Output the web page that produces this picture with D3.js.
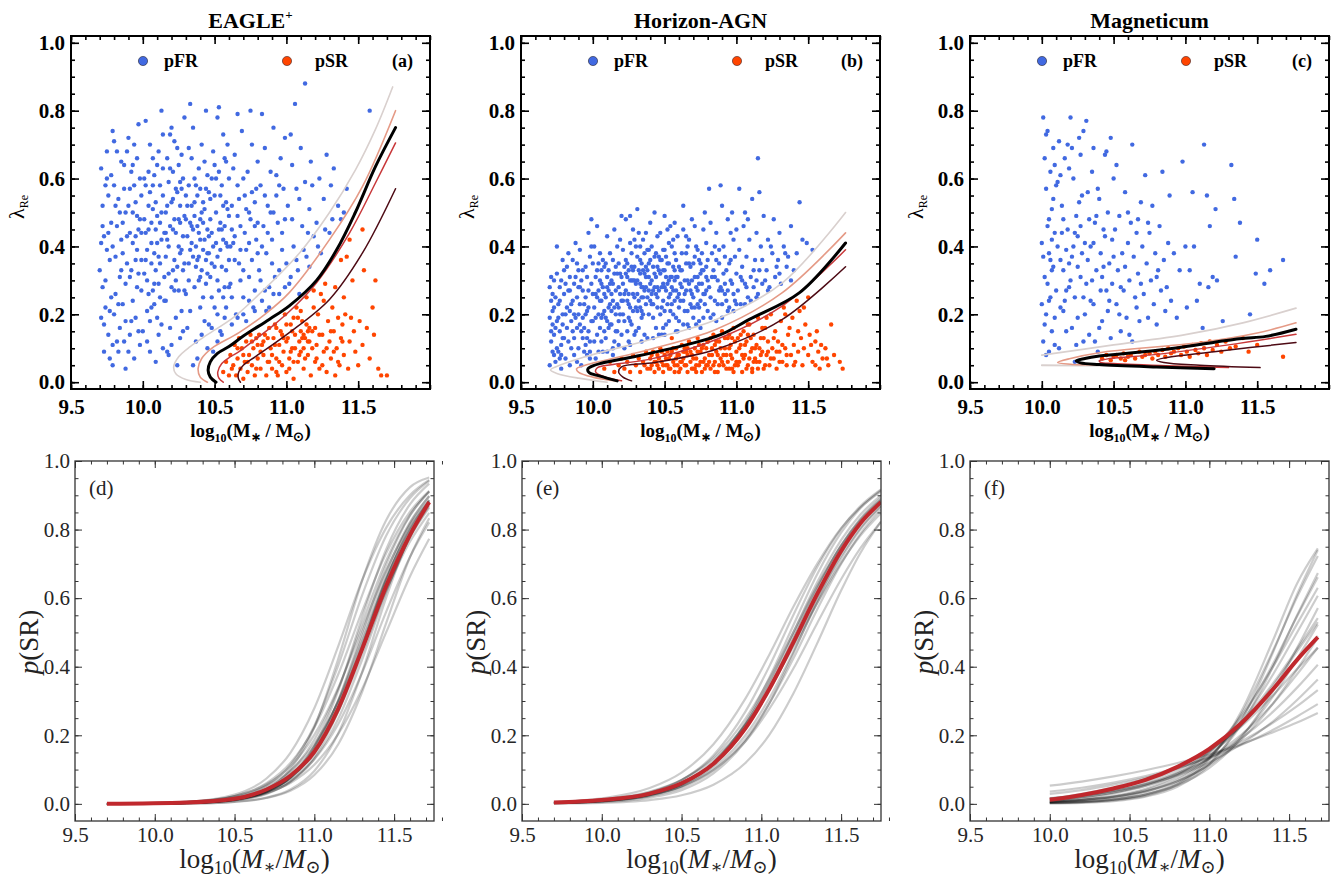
<!DOCTYPE html>
<html><head><meta charset="utf-8">
<script src="https://cdn.jsdelivr.net/npm/d3@7"></script>
<style>body{margin:0;background:#fff}svg{display:block}</style>
</head><body><svg id="c" width="1336" height="878"></svg>
<script>
// ---------------- DATA ----------------
const xTicks = [9.5, 10.0, 10.5, 11.0, 11.5];
const yTicks = [0.0, 0.2, 0.4, 0.6, 0.8, 1.0];
const titles = ["EAGLE", "Horizon-AGN", "Magneticum"];
const topTags = ["(a)", "(b)", "(c)"];
const botTags = ["(d)", "(e)", "(f)"];

// EAGLE+ points [log10 M*, lambda_Re]
const eagleFR = [[9.71,.63],[9.72,.52],[9.70,.33],[9.73,.09],[9.74,.22],[9.71,.41],[9.75,.68],[9.76,.14],[9.72,.28],[9.78,.47],[9.74,.58],[9.77,.36],[9.79,.05],[9.73,.17],[9.80,.71],[9.76,.44],[9.81,.26],[9.78,.61],[9.82,.12],[9.75,.39],[9.83,.54],[9.80,.20],[9.84,.31],[9.79,.74],[9.82,.46],[9.77,.07],[9.85,.65],[9.81,.37],[9.84,.16],[9.72,.46],[9.78,.25],[9.83,.09],[9.76,.55],[9.85,.42],[9.71,.19],[9.80,.58],[9.74,.30],[9.82,.68],[9.79,.11],[9.84,.50],
[9.86,.23],[9.87,.57],[9.88,.04],[9.89,.35],[9.90,.72],[9.86,.47],[9.91,.14],[9.92,.62],[9.88,.29],[9.93,.41],[9.94,.07],[9.90,.52],[9.95,.19],[9.96,.66],[9.92,.33],[9.97,.45],[9.98,.11],[9.94,.58],[9.99,.27],[9.96,.39],[9.87,.12],[9.89,.68],[9.91,.44],[9.93,.24],[9.95,.53],[9.97,.76],[9.99,.36],[9.98,.60],[9.86,.38],[9.88,.50],[9.90,.09],[9.92,.18],[9.94,.70],[9.96,.28],[9.98,.48],[9.93,.64],[9.97,.15],[9.99,.55],[9.91,.31],[9.95,.43],
[10.01,.32],[10.02,.58],[10.03,.12],[10.04,.45],[10.05,.70],[10.06,.22],[10.07,.51],[10.08,.38],[10.09,.06],[10.10,.64],[10.11,.29],[10.12,.47],[10.13,.17],[10.14,.55],[10.02,.77],[10.04,.26],[10.06,.41],[10.08,.61],[10.10,.19],[10.12,.35],[10.14,.73],[10.01,.48],[10.03,.39],[10.05,.09],[10.07,.27],[10.09,.53],[10.11,.68],[10.13,.42],[10.15,.31],[10.00,.15],[10.02,.44],[10.04,.62],[10.06,.35],[10.08,.23],[10.10,.49],[10.12,.58],[10.14,.10],[10.05,.56],[10.07,.66],[10.09,.33],[10.11,.14],[10.13,.80],[10.03,.21],[10.15,.44],[10.01,.60],
[10.16,.37],[10.17,.52],[10.18,.08],[10.19,.63],[10.20,.28],[10.21,.45],[10.22,.71],[10.23,.19],[10.24,.56],[10.25,.40],[10.26,.13],[10.27,.67],[10.28,.33],[10.29,.49],[10.16,.24],[10.18,.59],[10.20,.75],[10.22,.36],[10.24,.05],[10.26,.47],[10.28,.60],[10.30,.26],[10.17,.42],[10.19,.16],[10.21,.54],[10.23,.30],[10.25,.64],[10.27,.21],[10.29,.78],[10.16,.50],[10.18,.32],[10.20,.11],[10.22,.48],[10.24,.69],[10.26,.38],[10.28,.15],[10.30,.55],[10.21,.62],[10.23,.44],[10.25,.27],[10.27,.57],[10.29,.35],[10.19,.73],[10.17,.09],[10.26,.52],
[10.31,.43],[10.32,.58],[10.33,.21],[10.34,.66],[10.35,.37],[10.36,.49],[10.37,.12],[10.38,.55],[10.39,.30],[10.40,.42],[10.41,.70],[10.42,.25],[10.43,.51],[10.44,.36],[10.45,.61],[10.31,.16],[10.33,.47],[10.35,.75],[10.37,.40],[10.39,.63],[10.41,.33],[10.43,.18],[10.45,.45],[10.32,.35],[10.34,.52],[10.36,.28],[10.38,.07],[10.40,.57],[10.42,.39],[10.44,.80],[10.32,.69],[10.34,.41],[10.36,.60],[10.38,.46],[10.40,.22],[10.42,.53],[10.44,.29],[10.35,.05],[10.37,.34],[10.39,.44],[10.41,.14],[10.43,.65],[10.45,.38],[10.33,.82],[10.40,.48],
[10.46,.56],[10.47,.31],[10.48,.44],[10.49,.68],[10.50,.22],[10.51,.50],[10.52,.37],[10.53,.62],[10.54,.15],[10.55,.45],[10.56,.73],[10.57,.28],[10.58,.53],[10.59,.40],[10.46,.17],[10.48,.60],[10.50,.34],[10.52,.78],[10.54,.47],[10.56,.25],[10.58,.65],[10.60,.36],[10.47,.48],[10.49,.09],[10.51,.41],[10.53,.27],[10.55,.58],[10.57,.19],[10.59,.70],[10.60,.49],[10.46,.38],[10.48,.25],[10.50,.64],[10.52,.12],[10.54,.55],[10.56,.42],[10.58,.33],[10.60,.60],[10.53,.81],[10.57,.46],
[10.61,.29],[10.62,.52],[10.63,.41],[10.64,.67],[10.65,.20],[10.66,.58],[10.67,.35],[10.68,.46],[10.69,.74],[10.70,.25],[10.71,.55],[10.72,.39],[10.73,.62],[10.74,.31],[10.75,.48],[10.76,.70],[10.77,.22],[10.78,.53],[10.79,.42],[10.80,.65],[10.62,.17],[10.64,.43],[10.66,.79],[10.68,.30],[10.70,.60],[10.72,.18],[10.74,.50],[10.76,.36],[10.78,.27],[10.80,.47],[10.63,.63],[10.67,.54],[10.71,.44],[10.75,.80],[10.79,.57],
[10.81,.33],[10.82,.58],[10.83,.24],[10.84,.46],[10.85,.69],[10.86,.38],[10.87,.52],[10.88,.28],[10.89,.62],[10.90,.42],[10.91,.75],[10.92,.31],[10.93,.55],[10.94,.47],[10.95,.26],[10.96,.66],[10.97,.39],[10.98,.57],[10.99,.72],[11.00,.35],[10.83,.79],[10.86,.21],[10.89,.50],[10.93,.61],[10.97,.44],
[11.01,.52],[11.02,.29],[11.04,.64],[11.05,.40],[11.07,.57],[11.08,.33],[11.10,.69],[11.11,.46],[11.13,.59],[11.14,.37],[11.16,.51],[11.17,.65],[11.19,.43],[11.03,.73],[11.06,.82],[11.13,.88],[11.18,.58],[11.09,.26],
[11.21,.47],[11.23,.60],[11.24,.38],[11.26,.54],[11.28,.67],[11.30,.44],[11.31,.58],[11.33,.63],[11.36,.52],[11.38,.48],[11.42,.57],[11.58,.80],
[10.02,.36],[10.04,.52],[10.06,.47],[10.08,.29],[10.10,.41],[10.12,.25],[10.14,.63],[10.16,.44],[10.18,.40],[10.20,.53],[10.22,.27],[10.24,.34],[10.26,.59],[10.28,.43],[10.30,.48],[10.32,.30],[10.34,.46],[10.36,.53],[10.38,.36],[10.40,.31],[10.42,.47],[10.44,.57],[10.46,.43],[10.48,.35],[10.50,.55],[10.52,.30],[10.54,.39],[10.56,.52],[10.58,.41],[10.60,.28],[10.62,.45],[10.64,.36],[10.66,.49],[10.68,.39],[10.70,.33],[10.72,.51],[10.74,.41],[10.76,.56],[10.78,.46],[10.80,.38],
[10.03,.30],[10.05,.18],[10.07,.58],[10.09,.45],[10.11,.37],[10.13,.50],[10.15,.24],[10.17,.66],[10.19,.46],[10.21,.33],[10.23,.57],[10.25,.48],[10.27,.39],[10.29,.27],[10.31,.52],[10.33,.39],[10.35,.45],[10.37,.58],[10.39,.37],[10.41,.50],[10.43,.42],[10.45,.32],[10.47,.54],[10.49,.40],[10.51,.60],[10.53,.45],[10.55,.34],[10.57,.66],[10.59,.51],[10.61,.40],
[9.73,.43],[9.77,.21],[9.81,.52],[9.85,.33],[9.89,.43],[9.93,.50],[9.97,.32],[9.75,.60],[9.79,.40],[9.83,.23],[9.87,.64],[9.91,.57],[9.95,.36],[9.99,.44],[9.88,.18],[9.96,.49],
[10.45,.10],[10.48,.16],[10.52,.20],[10.55,.14],[10.58,.22],[10.62,.25],[10.66,.19],[10.70,.20],[10.74,.24],[10.78,.21],[10.82,.30],[10.85,.27],[10.88,.22],[10.91,.26],[10.95,.33],[10.99,.28],[11.03,.31],[11.07,.36],[11.12,.39],[11.16,.34],[11.22,.40],[11.27,.45],[11.32,.48],[11.40,.50],
[10.83,.40],[10.87,.44],[10.91,.50],[10.95,.58],[10.99,.48],[11.04,.48],[11.09,.54],[11.15,.44],[10.85,.55],[10.90,.35]];
const eagleSR = [[10.56,.03],[10.58,.06],[10.60,.02],[10.61,.08],[10.63,.05],[10.64,.11],[10.65,.02],[10.66,.07],[10.68,.04],[10.69,.10],[10.70,.01],[10.71,.06],[10.72,.12],[10.73,.03],[10.74,.08],[10.75,.14],[10.76,.05],[10.77,.10],[10.78,.02],[10.79,.13],[10.80,.07],[10.81,.14],[10.82,.04],[10.83,.11],[10.84,.08],[10.85,.14],[10.86,.02],[10.87,.06],[10.88,.16],[10.89,.10],[10.90,.04],[10.91,.13],[10.92,.17],[10.93,.07],[10.94,.02],[10.95,.11],[10.96,.15],[10.97,.05],[10.98,.09],[10.99,.20],[11.00,.03],[11.01,.13],[11.02,.07],[11.03,.17],[11.04,.10],[11.05,.01],[11.06,.14],[11.07,.22],[11.08,.06],[11.09,.12],[11.10,.09],[11.11,.18],[11.12,.04],[11.13,.13],[11.14,.25],[11.15,.08],[11.16,.12],[11.17,.02],[11.18,.15],[11.19,.27],[11.20,.06],[11.21,.11],[11.22,.20],[11.23,.04],[11.24,.26],[11.25,.14],[11.26,.09],[11.27,.29],[11.28,.03],[11.29,.18],[11.30,.12],[11.31,.07],[11.32,.22],[11.33,.15],[11.34,.02],[11.35,.10],[11.36,.19],[11.37,.05],[11.38,.13],[11.39,.17],[11.40,.08],[11.41,.20],[11.42,.37],[11.43,.04],[11.44,.12],[11.45,.19],[11.47,.15],[11.48,.09],[11.50,.05],[11.51,.18],[11.53,.11],[11.54,.33],[11.56,.16],[11.58,.07],[11.60,.22],[11.61,.14],[11.62,.30],[11.64,.04],[11.66,.02],[11.70,.02],[10.67,.13],[10.80,.11],[10.93,.16],[11.05,.06],[11.10,.15],[11.15,.12],[11.20,.16],[11.12,.10],[11.08,.19],[10.98,.13],[11.26,.24],[11.34,.28],[11.40,.25],[11.46,.30],[11.38,.36],[11.44,.42],[11.53,.45],
[10.62,.04],[10.66,.10],[10.70,.08],[10.73,.06],[10.76,.12],[10.79,.04],[10.82,.09],[10.84,.12],[10.87,.13],[10.90,.08],[10.92,.11],[10.95,.06],[10.97,.14],[11.00,.12],[11.02,.04],[11.04,.15],[11.06,.10],[11.09,.08],[11.11,.13],[11.13,.07],[11.16,.16],[11.18,.10],[11.21,.07],[11.23,.14],[11.25,.05],[11.28,.10],[11.31,.15],[11.33,.09],[11.36,.06],[11.39,.12],[11.00,.17],[11.05,.19],[11.10,.21],[11.14,.17],[11.19,.22],[10.88,.06],[10.93,.03],[11.03,.09],[11.12,.14],[11.15,.15]];

// Horizon-AGN points
const horizonFR = [[9.70,.28],[9.71,.12],[9.70,.05],[9.72,.21],[9.71,.31],[9.73,.08],[9.72,.17],[9.74,.25],[9.73,.14],[9.75,.32],[9.74,.06],[9.76,.19],[9.75,.10],[9.77,.28],[9.76,.23],[9.78,.04],[9.77,.15],[9.79,.36],[9.78,.11],[9.80,.26],[9.79,.20],[9.81,.07],[9.80,.33],[9.82,.16],[9.81,.29],[9.83,.12],[9.82,.22],[9.84,.05],[9.83,.38],[9.85,.18],[9.84,.27],[9.70,.19],[9.72,.26],[9.74,.16],[9.76,.09],[9.78,.30],[9.80,.13],[9.82,.34],[9.84,.21],[9.71,.24],[9.73,.30],[9.75,.40],[9.77,.07],[9.79,.17],[9.85,.10],
[9.86,.24],[9.87,.13],[9.88,.31],[9.89,.06],[9.90,.20],[9.91,.39],[9.92,.15],[9.93,.27],[9.94,.09],[9.95,.34],[9.96,.21],[9.97,.44],[9.98,.12],[9.99,.29],[10.00,.18],[9.86,.36],[9.88,.19],[9.90,.28],[9.92,.05],[9.94,.23],[9.96,.13],[9.98,.37],[10.00,.26],[9.87,.08],[9.89,.25],[9.91,.17],[9.93,.33],[9.95,.11],[9.97,.22],[9.99,.40],[9.86,.15],[9.88,.41],[9.90,.10],[9.92,.30],[9.94,.16],[9.96,.31],[9.98,.07],[10.00,.35],[9.87,.29],[9.89,.35],[9.91,.23],[9.93,.19],[9.95,.25],[9.97,.15],[9.99,.48],
[10.01,.22],[10.02,.31],[10.03,.14],[10.04,.27],[10.05,.38],[10.06,.19],[10.07,.09],[10.08,.34],[10.09,.25],[10.10,.43],[10.11,.16],[10.12,.29],[10.13,.21],[10.14,.36],[10.15,.12],[10.16,.27],[10.17,.40],[10.18,.18],[10.19,.32],[10.20,.24],[10.01,.40],[10.03,.25],[10.05,.16],[10.07,.28],[10.09,.35],[10.11,.22],[10.13,.30],[10.15,.45],[10.17,.15],[10.19,.26],[10.02,.19],[10.04,.09],[10.06,.33],[10.08,.21],[10.10,.28],[10.12,.38],[10.14,.10],[10.16,.20],[10.18,.35],[10.20,.14],[10.01,.12],[10.03,.46],[10.05,.30],[10.07,.20],[10.09,.13],[10.11,.33],[10.13,.26],[10.15,.32],[10.17,.23],[10.19,.42],[10.04,.35],[10.06,.24],[10.08,.15],[10.10,.31],[10.12,.17],[10.14,.24],[10.16,.34],[10.18,.28],[10.20,.49],[10.02,.07],
[10.21,.29],[10.22,.18],[10.23,.36],[10.24,.24],[10.25,.12],[10.26,.41],[10.27,.30],[10.28,.21],[10.29,.34],[10.30,.15],[10.31,.26],[10.32,.44],[10.33,.32],[10.34,.19],[10.35,.28],[10.36,.38],[10.37,.23],[10.38,.13],[10.39,.31],[10.40,.47],[10.21,.39],[10.23,.27],[10.25,.33],[10.27,.17],[10.29,.25],[10.31,.37],[10.33,.22],[10.35,.42],[10.37,.31],[10.39,.20],[10.22,.10],[10.24,.31],[10.26,.22],[10.28,.45],[10.30,.29],[10.32,.16],[10.34,.35],[10.36,.27],[10.38,.39],[10.40,.24],[10.21,.20],[10.23,.48],[10.25,.26],[10.27,.38],[10.29,.14],[10.31,.30],[10.33,.40],[10.35,.20],[10.37,.34],[10.39,.27],[10.22,.34],[10.24,.15],[10.26,.30],[10.28,.26],[10.30,.40],[10.32,.24],[10.34,.28],[10.36,.14],[10.38,.33],[10.40,.36],[10.25,.19],[10.29,.42],[10.33,.29],[10.37,.44],[10.26,.49],[10.31,.51],[10.35,.33],[10.39,.39],[10.28,.33],[10.34,.25],
[10.41,.30],[10.42,.19],[10.43,.37],[10.44,.26],[10.45,.43],[10.46,.14],[10.47,.32],[10.48,.22],[10.49,.39],[10.50,.28],[10.51,.17],[10.52,.35],[10.53,.25],[10.54,.46],[10.55,.31],[10.56,.20],[10.57,.38],[10.58,.27],[10.59,.15],[10.60,.34],[10.41,.40],[10.43,.28],[10.45,.22],[10.47,.44],[10.49,.29],[10.51,.37],[10.53,.18],[10.55,.40],[10.57,.24],[10.59,.31],[10.42,.34],[10.44,.16],[10.46,.27],[10.48,.36],[10.50,.49],[10.52,.23],[10.54,.31],[10.56,.42],[10.58,.19],[10.60,.26],[10.41,.23],[10.43,.50],[10.45,.34],[10.47,.20],[10.49,.16],[10.51,.27],[10.53,.41],[10.55,.23],[10.57,.30],[10.59,.43],[10.42,.27],[10.44,.38],[10.46,.33],[10.48,.14],[10.50,.21],[10.52,.45],[10.54,.26],[10.56,.34],[10.58,.36],[10.60,.18],[10.45,.28],[10.49,.33],[10.53,.30],[10.57,.47],[10.50,.39],
[10.61,.24],[10.62,.38],[10.63,.17],[10.64,.30],[10.65,.43],[10.66,.21],[10.67,.35],[10.68,.27],[10.69,.48],[10.70,.19],[10.71,.31],[10.72,.40],[10.73,.23],[10.74,.36],[10.75,.16],[10.76,.29],[10.77,.45],[10.78,.26],[10.79,.34],[10.80,.21],[10.61,.33],[10.63,.45],[10.65,.27],[10.67,.16],[10.69,.30],[10.71,.22],[10.73,.39],[10.75,.32],[10.77,.19],[10.79,.41],[10.62,.28],[10.64,.21],[10.66,.40],[10.68,.34],[10.70,.25],[10.72,.17],[10.74,.29],[10.76,.38],[10.78,.50],[10.80,.30],[10.63,.52],[10.67,.42],[10.71,.46],[10.75,.24],[10.79,.27],[10.65,.35],[10.69,.22],[10.73,.31],[10.77,.33],[10.81,.57],
[10.82,.25],[10.83,.38],[10.84,.20],[10.85,.31],[10.86,.44],[10.87,.23],[10.88,.35],[10.89,.28],[10.90,.19],[10.91,.40],[10.92,.26],[10.93,.33],[10.94,.48],[10.95,.22],[10.96,.36],[10.97,.29],[10.98,.42],[10.99,.24],[11.00,.32],[10.82,.47],[10.84,.33],[10.86,.18],[10.88,.27],[10.90,.52],[10.92,.37],[10.94,.21],[10.96,.30],[10.98,.26],[11.00,.45],[10.85,.40],[10.89,.58],[10.93,.24],[10.97,.50],[10.91,.32],[10.87,.30],
[11.01,.27],[11.02,.39],[11.03,.23],[11.04,.34],[11.05,.46],[11.06,.29],[11.07,.37],[11.08,.25],[11.09,.42],[11.10,.31],[11.11,.54],[11.12,.28],[11.13,.36],[11.14,.44],[11.15,.26],[11.16,.33],[11.17,.40],[11.18,.29],[11.19,.49],[11.02,.57],[11.06,.50],[11.10,.24],[11.14,.30],[11.16,.56],[11.04,.30],
[11.21,.33],[11.22,.42],[11.23,.28],[11.25,.38],[11.26,.48],[11.27,.31],[11.29,.36],[11.30,.44],[11.31,.29],[11.33,.40],[11.35,.34],[11.36,.37],[11.38,.46],[11.40,.33],[11.42,.38],[11.44,.53],[11.46,.42],[11.49,.41],[11.53,.39],[11.15,.66],
[10.02,.26],[10.04,.20],[10.06,.29],[10.08,.26],[10.10,.18],[10.12,.23],[10.14,.29],[10.16,.15],[10.18,.22],[10.20,.31],[10.22,.26],[10.24,.35],[10.26,.18],[10.28,.30],[10.30,.22],[10.32,.33],[10.34,.21],[10.36,.32],[10.38,.25],[10.40,.29],[10.42,.23],[10.44,.31],[10.46,.37],[10.48,.28],[10.50,.33],[10.52,.29],[10.54,.21],[10.56,.27],[10.58,.31],[10.60,.22],[10.62,.33],[10.64,.26],[10.66,.30],[10.68,.23],[10.70,.35],[10.72,.28],[10.74,.22],[10.76,.33],[10.78,.23],[10.80,.36],
[10.03,.33],[10.05,.24],[10.07,.36],[10.09,.19],[10.11,.27],[10.13,.17],[10.15,.22],[10.17,.32],[10.19,.20],[10.21,.24],[10.23,.32],[10.25,.23],[10.27,.34],[10.29,.30],[10.31,.21],[10.33,.36],[10.35,.25],[10.37,.28],[10.39,.35],[10.41,.26],[10.43,.32],[10.45,.25],[10.47,.36],[10.49,.24],[10.51,.31],[10.53,.35],[10.55,.28],[10.57,.33],[10.59,.25],[10.61,.29],[10.63,.24],[10.65,.38],[10.67,.29],[10.69,.26],[10.71,.37],[10.73,.27],[10.75,.35],[10.77,.26],[10.79,.31],[10.81,.28],
[9.71,.15],[9.73,.22],[9.75,.18],[9.77,.24],[9.79,.13],[9.81,.20],[9.83,.27],[9.85,.23],[9.87,.20],[9.89,.16],[9.91,.28],[9.93,.13],[9.95,.20],[9.97,.27],[9.99,.18],[9.72,.09],[9.78,.08],[9.84,.31],[9.90,.33],[9.96,.08],
[10.10,.09],[10.18,.11],[10.26,.11],[10.34,.12],[10.42,.13],[10.50,.14],[10.58,.15],[10.66,.17],[10.74,.18],[10.82,.19],[10.90,.23],[10.98,.21],[11.06,.23],[11.14,.25],[11.22,.27],[11.30,.32],[11.38,.30],[10.14,.08],[10.06,.12],[9.98,.09],
[10.83,.31],[10.85,.24],[10.88,.39],[10.92,.29],[10.95,.35],[10.99,.37],[11.03,.31],[11.07,.28],[11.12,.33],[11.18,.36],[11.24,.40],[11.28,.34],[11.34,.38],[11.20,.30],[10.96,.44],[11.08,.48],[10.94,.27],[11.00,.23],[10.86,.36],[10.90,.27]];
const horizonSR = [[10.08,.04],[10.12,.06],[10.15,.03],[10.18,.05],[10.20,.07],[10.22,.04],[10.24,.06],[10.26,.03],[10.28,.08],[10.30,.05],[10.32,.07],[10.33,.03],[10.35,.06],[10.37,.09],[10.38,.04],[10.40,.07],[10.41,.05],[10.42,.09],[10.43,.03],[10.44,.06],[10.45,.08],[10.46,.04],[10.47,.10],[10.48,.06],[10.49,.03],[10.50,.08],[10.51,.05],[10.52,.09],[10.53,.07],[10.54,.04],[10.55,.09],[10.56,.06],[10.57,.03],[10.58,.10],[10.59,.05],[10.60,.08],[10.61,.04],[10.62,.11],[10.63,.07],[10.64,.05],[10.65,.09],[10.66,.03],[10.67,.12],[10.68,.06],[10.69,.08],[10.70,.04],[10.71,.10],[10.72,.07],[10.73,.13],[10.74,.05],[10.75,.09],[10.76,.03],[10.77,.11],[10.78,.07],[10.79,.05],[10.80,.12],[10.81,.08],[10.82,.04],[10.83,.10],[10.84,.14],[10.85,.06],[10.86,.09],[10.87,.03],[10.88,.12],[10.89,.07],[10.90,.15],[10.91,.05],[10.92,.10],[10.93,.08],[10.94,.13],[10.95,.04],[10.96,.11],[10.97,.07],[10.98,.16],[10.99,.05],[11.00,.09],[11.01,.13],[11.02,.06],[11.03,.11],[11.04,.03],[11.05,.15],[11.06,.08],[11.07,.12],[11.08,.05],[11.09,.17],[11.10,.09],[11.11,.04],[11.12,.14],[11.13,.07],[11.14,.11],[11.15,.19],[11.16,.06],[11.17,.13],[11.18,.09],[11.19,.04],[11.20,.16],[11.21,.08],[11.22,.12],[11.23,.05],[11.24,.20],[11.25,.10],[11.26,.07],[11.27,.15],[11.28,.04],[11.29,.12],[11.30,.09],[11.31,.18],[11.32,.06],[11.33,.22],[11.34,.10],[11.35,.05],[11.36,.14],[11.38,.08],[11.39,.19],[11.40,.11],[11.41,.06],[11.42,.24],[11.43,.09],[11.45,.13],[11.46,.05],[11.48,.17],[11.50,.08],[11.52,.11],[11.53,.06],[11.55,.12],[11.57,.09],[11.58,.04],[11.60,.07],[11.62,.10],[11.64,.05],[11.66,.17],[11.68,.08],[11.72,.06],[11.74,.04],[11.50,.25],[11.47,.22],[11.44,.21],[11.56,.15],[10.52,.05],[10.55,.13],[10.58,.07],[10.62,.06],[10.64,.09],[10.66,.10],[10.69,.04],[10.72,.05],[10.74,.11],[10.77,.06],[10.80,.05],[10.82,.13],[10.85,.11],[10.87,.08],[10.90,.06],[10.93,.04],[10.95,.10],[10.97,.13],[11.00,.06],[11.02,.10],[11.05,.07],[11.08,.14],[11.11,.10],[11.14,.06],[11.16,.10],[11.19,.13],[10.45,.05],[10.48,.09],[10.40,.04],[10.36,.05],
[10.41,.08],[10.43,.06],[10.46,.07],[10.49,.05],[10.51,.07],[10.53,.04],[10.54,.08],[10.56,.10],[10.57,.05],[10.59,.08],[10.61,.06],[10.63,.09],[10.65,.05],[10.66,.08],[10.68,.09],[10.70,.07],[10.71,.04],[10.73,.09],[10.75,.06],[10.76,.10],[10.78,.04],[10.79,.10],[10.81,.06],[10.83,.08],[10.84,.05],[10.86,.12],[10.88,.05],[10.89,.10],[10.91,.08],[10.92,.13],[10.94,.06],[10.96,.08],[10.97,.04],[10.99,.12],[11.01,.05],[11.03,.14],[11.04,.08],[11.06,.11],[11.07,.04],[11.09,.07],[11.10,.13],[11.12,.06],[11.13,.10],[11.15,.04],[11.17,.08],[11.18,.16],[11.20,.05],[11.22,.09],[11.24,.07],[11.26,.13],[11.28,.09],[11.30,.06],[11.32,.11],[11.35,.08],[11.37,.16],[11.40,.05],[11.43,.15],[11.47,.10],[11.51,.14],[11.55,.05],[11.59,.11],[11.63,.07],[10.60,.03],[10.72,.03],[10.85,.03],[10.98,.03],[11.11,.03],[10.64,.10],[10.80,.12],[10.95,.14],[11.08,.17],[11.21,.19],[11.34,.20]];

// Magneticum points
const magFR = [[10.00,.23],[10.01,.78],[10.01,.12],[10.02,.66],[10.02,.31],[10.03,.57],[10.03,.20],[10.04,.46],[10.04,.74],[10.05,.09],[10.05,.38],[10.06,.62],[10.06,.25],[10.07,.51],[10.07,.15],[10.08,.69],[10.08,.34],[10.09,.44],[10.09,.19],[10.10,.58],[10.00,.41],[10.02,.17],[10.04,.29],[10.06,.36],[10.08,.54],[10.10,.27],[10.03,.73],[10.05,.48],[10.07,.33],[10.09,.64],[10.01,.37],[10.03,.08],[10.05,.24],[10.07,.42],[10.09,.11],
[10.11,.40],[10.12,.71],[10.13,.22],[10.14,.52],[10.15,.33],[10.16,.66],[10.17,.15],[10.18,.45],[10.19,.28],[10.20,.78],[10.21,.37],[10.22,.60],[10.23,.06],[10.24,.49],[10.25,.19],[10.26,.72],[10.27,.31],[10.28,.55],[10.29,.12],[10.30,.41],[10.11,.59],[10.13,.36],[10.15,.48],[10.17,.27],[10.19,.63],[10.21,.16],[10.23,.44],[10.25,.34],[10.27,.67],[10.29,.25],[10.12,.10],[10.14,.44],[10.16,.24],[10.18,.70],[10.20,.30],[10.22,.40],[10.24,.11],[10.26,.53],[10.28,.38],[10.30,.20],[10.13,.61],[10.17,.39],[10.21,.69],[10.25,.43],[10.29,.74],[10.15,.21],[10.19,.35],[10.23,.25],[10.27,.46],[10.31,.77],
[10.31,.29],[10.32,.56],[10.33,.14],[10.34,.40],[10.35,.62],[10.36,.23],[10.37,.47],[10.38,.33],[10.39,.09],[10.40,.54],[10.41,.38],[10.42,.18],[10.43,.45],[10.44,.67],[10.45,.27],[10.46,.50],[10.47,.35],[10.48,.13],[10.49,.42],[10.50,.60],[10.32,.36],[10.34,.24],[10.36,.69],[10.38,.49],[10.40,.16],[10.42,.31],[10.44,.43],[10.46,.21],[10.48,.72],[10.50,.37],[10.33,.48],[10.35,.30],[10.37,.12],[10.39,.57],[10.41,.27],[10.43,.34],[10.45,.68],[10.47,.24],[10.49,.29],[10.36,.41],
[10.51,.45],[10.52,.23],[10.53,.33],[10.54,.49],[10.55,.15],[10.56,.38],[10.57,.27],[10.58,.56],[10.59,.19],[10.60,.41],[10.61,.30],[10.62,.47],[10.63,.12],[10.64,.37],[10.65,.25],[10.66,.44],[10.67,.32],[10.68,.18],[10.69,.53],[10.70,.40],[10.52,.64],[10.55,.28],[10.58,.34],[10.61,.14],[10.63,.70],[10.66,.22],[10.69,.29],[10.54,.20],[10.60,.50],[10.67,.48],
[10.71,.26],[10.72,.61],[10.73,.35],[10.74,.19],[10.75,.44],[10.76,.30],[10.77,.52],[10.78,.23],[10.79,.38],[10.80,.17],[10.81,.33],[10.82,.46],[10.83,.27],[10.84,.62],[10.85,.36],[10.86,.21],[10.87,.28],[10.88,.41],[10.89,.55],[10.90,.24],[10.74,.47],[10.80,.31],
[10.92,.38],[10.94,.19],[10.96,.33],[10.98,.65],[11.00,.40],[11.01,.22],[11.03,.33],[11.05,.56],[11.06,.40],[11.08,.24],[11.10,.29],[11.12,.16],[11.13,.70],[11.15,.55],[11.16,.28],[11.17,.46],[11.19,.31],[11.21,.51],[11.22,.30],[11.26,.18],[11.32,.64],[11.34,.54],[11.35,.37],[11.38,.47],[11.45,.20],[11.49,.32],[11.50,.42],[11.59,.33],[11.68,.36],[11.55,.29]];
const magSR = [[10.42,.07],[10.45,.08],[10.48,.065],[10.50,.075],[10.52,.08],[10.55,.07],[10.57,.085],[10.60,.075],[10.62,.08],[10.65,.07],[10.68,.09],[10.70,.075],[10.72,.08],[10.75,.085],[10.77,.07],[10.79,.09],[10.81,.08],[10.84,.095],[10.86,.075],[10.88,.10],[10.90,.085],[10.92,.09],[10.95,.10],[10.97,.08],[10.99,.105],[11.01,.09],[11.03,.075],[11.05,.11],[11.07,.095],[11.09,.085],[11.11,.115],[11.13,.10],[11.15,.08],[11.17,.12],[11.19,.095],[11.22,.11],[11.25,.09],[11.28,.12],[11.31,.10],[11.35,.105],[11.40,.13],[11.44,.09],[11.50,.11],[11.68,.075],[10.58,.065]];

// Separation curves (points along each curve)
const eagleGray   = [[10.40,0.0],[10.30,0.008],[10.23,0.025],[10.215,0.045],[10.25,0.075],[10.33,0.105],[10.45,0.14],[10.63,0.19],[10.80,0.255],[11.09,0.38],[11.30,0.50],[11.48,0.625],[11.62,0.745],[11.74,0.87]];
const eagleSalmon = [[10.45,0.0],[10.40,0.015],[10.385,0.04],[10.41,0.07],[10.48,0.10],[10.67,0.146],[10.85,0.20],[11.02,0.264],[11.30,0.42],[11.53,0.577],[11.76,0.80]];
const eagleBlack  = [[10.51,0.0],[10.47,0.015],[10.455,0.035],[10.47,0.06],[10.52,0.085],[10.60,0.105],[10.70,0.136],[10.88,0.185],[11.02,0.225],[11.21,0.30],[11.35,0.39],[11.48,0.50],[11.62,0.635],[11.76,0.75]];
const eagleRed    = [[10.56,0.0],[10.53,0.012],[10.522,0.03],[10.55,0.055],[10.61,0.075],[10.67,0.09],[10.78,0.125],[10.905,0.166],[11.05,0.22],[11.21,0.293],[11.44,0.44],[11.62,0.587],[11.76,0.705]];
const eagleMaroon = [[10.68,0.0],[10.665,0.012],[10.668,0.03],[10.70,0.05],[10.79,0.077],[11.02,0.146],[11.30,0.244],[11.53,0.381],[11.76,0.57]];

const horizonGray   = [[10.10,0.0],[9.90,0.012],[9.75,0.026],[9.705,0.036],[9.74,0.045],[9.93,0.073],[10.40,0.126],[10.86,0.185],[11.32,0.293],[11.76,0.50]];
const horizonSalmon = [[10.16,0.004],[10.00,0.015],[9.90,0.03],[9.887,0.04],[9.93,0.048],[10.40,0.097],[10.86,0.156],[11.32,0.264],[11.76,0.44]];
const horizonBlack  = [[10.17,0.004],[10.05,0.018],[9.975,0.028],[9.965,0.038],[10.00,0.048],[10.06,0.056],[10.31,0.077],[10.65,0.11],[10.89,0.14],[11.09,0.185],[11.44,0.264],[11.76,0.41]];
const horizonRed    = [[10.20,0.004],[10.08,0.016],[10.02,0.03],[10.03,0.042],[10.10,0.05],[10.40,0.068],[10.86,0.126],[11.32,0.225],[11.76,0.39]];
const horizonMaroon = [[10.27,0.004],[10.21,0.015],[10.18,0.03],[10.20,0.045],[10.43,0.058],[10.86,0.097],[11.32,0.185],[11.76,0.34]];

const magGrayUpper = [[10.0,0.08],[10.5,0.11],[11.0,0.14],[11.4,0.175],[11.77,0.218]];
const magGrayLower = [[10.0,0.05],[10.5,0.048],[11.05,0.046]];
const magSalmon = [[11.25,0.044],[10.6,0.05],[10.2,0.053],[10.11,0.058],[10.2,0.07],[10.40,0.087],[11.10,0.117],[11.5,0.145],[11.77,0.175]];
const magBlack  = [[11.20,0.04],[10.8,0.045],[10.4,0.052],[10.27,0.057],[10.24,0.063],[10.30,0.07],[10.40,0.077],[10.87,0.097],[11.375,0.128],[11.56,0.135],[11.77,0.156]];
const magRed    = [[11.30,0.043],[10.9,0.048],[10.5,0.055],[10.41,0.058],[10.40,0.063],[10.45,0.068],[10.8,0.082],[11.3,0.11],[11.77,0.141]];
const magMaroon = [[11.52,0.043],[11.1,0.05],[10.85,0.058],[10.80,0.065],[10.86,0.072],[11.2,0.09],[11.77,0.117]];

// p(SR) curves: mass grids, best fit (red) and posterior draws (grey)
const massD = [9.7,10.2,10.5,10.7,10.85,11.0,11.15,11.3,11.45,11.6,11.72];
const bestD = [0.0,0.004,0.015,0.042,0.082,0.152,0.278,0.452,0.635,0.785,0.88];
const drawsD = [
[0,.006,.027,.074,.149,.279,.46,.653,.805,.901,.945],
[0,.003,.018,.053,.113,.228,.404,.609,.782,.892,.942],
[0,.005,.023,.060,.119,.223,.378,.562,.731,.852,.913],
[0,.002,.011,.034,.078,.169,.33,.545,.742,.874,.934],
[0,.006,.023,.057,.109,.201,.339,.512,.681,.814,.886],
[0,.003,.014,.039,.082,.164,.301,.488,.677,.822,.897],
[0,.002,.010,.029,.065,.138,.269,.458,.661,.818,.898],
[0,.006,.021,.052,.097,.175,.297,.455,.622,.765,.849],
[0,.002,.011,.030,.064,.131,.248,.421,.616,.779,.869],
[0,.001,.006,.018,.042,.096,.206,.385,.601,.784,.881],
[0,.003,.014,.035,.068,.13,.233,.383,.56,.721,.821],
[0,.001,.006,.017,.038,.084,.174,.327,.527,.72,.833],
[0,.003,.013,.032,.061,.114,.204,.336,.5,.664,.773],
[0,.002,.012,.042,.101,.223,.423,.652,.827,.924,.952],
[0,.004,.016,.043,.087,.168,.30,.475,.657,.802,.881],
[0,.003,.016,.045,.094,.187,.336,.527,.709,.843,.91],
[0,.003,.012,.035,.074,.149,.279,.46,.652,.805,.886],
[0,.003,.014,.037,.076,.148,.269,.438,.622,.777,.864],
[0,.002,.012,.034,.076,.159,.303,.5,.697,.841,.911],
[0,.003,.013,.038,.078,.150,.275,.45,.64,.79,.878],
[0,.002,.012,.036,.076,.152,.284,.468,.655,.80,.883]];

const massE = [9.7,10.0,10.3,10.5,10.7,10.9,11.05,11.2,11.35,11.5,11.62,11.75];
const bestE = [0.004,0.011,0.030,0.060,0.117,0.22,0.335,0.47,0.612,0.738,0.818,0.88];
const drawsE = [
[.003,.010,.032,.069,.142,.269,.401,.55,.69,.802,.868,.917],
[.004,.012,.034,.070,.136,.248,.364,.5,.636,.752,.826,.885],
[.002,.007,.022,.047,.097,.188,.293,.423,.567,.70,.787,.859],
[.005,.013,.036,.07,.13,.23,.334,.458,.585,.703,.782,.848],
[.002,.007,.025,.056,.119,.237,.368,.52,.67,.791,.862,.915],
[.003,.009,.026,.051,.099,.182,.277,.394,.527,.655,.745,.823],
[.002,.008,.025,.053,.111,.218,.336,.48,.627,.754,.832,.893],
[.005,.016,.046,.091,.174,.307,.435,.574,.70,.804,.864,.911],
[.002,.005,.018,.040,.089,.182,.293,.438,.593,.731,.818,.885],
[.001,.003,.011,.025,.056,.119,.201,.321,.468,.622,.731,.823],
[.003,.010,.030,.061,.119,.221,.331,.463,.601,.723,.804,.869],
[.0025,.008,.027,.057,.119,.231,.354,.5,.646,.769,.843,.90],
[.003,.009,.027,.057,.115,.219,.334,.47,.613,.739,.818,.881],
[.003,.009,.029,.061,.123,.233,.35,.49,.632,.754,.829,.889],
[.0025,.008,.024,.051,.104,.20,.308,.443,.586,.715,.80,.868]];

const massF = [10.0,10.2,10.4,10.6,10.8,11.0,11.2,11.4,11.55,11.68];
const bestF = [0.012,0.026,0.045,0.07,0.108,0.16,0.235,0.335,0.42,0.486];
const drawsF = [
[.006,.011,.021,.040,.076,.138,.237,.378,.5,.607],
[.003,.006,.012,.027,.057,.119,.231,.401,.55,.673],
[.001,.003,.008,.021,.05,.114,.242,.443,.611,.74],
[.006,.011,.020,.036,.066,.116,.197,.314,.423,.523],
[.012,.020,.033,.053,.085,.133,.201,.293,.378,.456],
[.016,.025,.038,.058,.089,.131,.191,.269,.339,.406],
[.029,.040,.056,.076,.103,.138,.182,.237,.285,.332],
[.036,.047,.062,.081,.105,.135,.172,.216,.255,.291],
[.053,.065,.080,.098,.119,.144,.174,.209,.237,.265],
[.003,.005,.012,.028,.062,.133,.261,.448,.603,.723],
[.003,.007,.014,.027,.054,.105,.193,.329,.455,.571],
[.007,.012,.021,.038,.066,.113,.187,.293,.392,.485],
[.011,.019,.033,.056,.093,.152,.237,.352,.452,.542],
[.017,.025,.038,.057,.083,.121,.174,.241,.303,.363],
[.006,.012,.023,.044,.083,.151,.256,.401,.525,.63],
[.004,.008,.017,.035,.07,.136,.248,.409,.547,.661],
[.002,.004,.010,.023,.056,.129,.269,.478,.643,.745],
[.009,.021,.039,.063,.10,.153,.23,.333,.42,.49],
[.006,.015,.030,.052,.088,.144,.228,.345,.445,.53],
[.015,.029,.048,.072,.107,.157,.226,.317,.393,.455]];

// ---------------- DRAWING ----------------
const svg = d3.select('#c');
const defs = svg.append('defs');
const COL = {gray:'#d9d0ce', salmon:'#e59a86', black:'#000', red:'#c8383a', maroon:'#4d0a14', fr:'#4169e1', sr:'#ff4500'};
const TOPF = "'Liberation Serif','Times New Roman',serif";

function frameAxes(g, x, y, opt){
  const [L,R] = x.range(), [B,T] = y.range();
  const fmt = d3.format('.1f');
  const xMinor = d3.range(Math.round(x.domain()[0]*10), Math.round(x.domain()[1]*10)+1).map(v=>v/10);
  const yMinor = d3.range(0, 21).map(v=>v/20);
  const mk = (sel)=>{ sel.select('.domain').remove(); sel.selectAll('line').attr('stroke',opt.col).attr('stroke-width',opt.tw); };
  g.append('g').attr('transform',`translate(0,${B})`).call(d3.axisBottom(x).tickValues(xMinor).tickSize(-opt.minor).tickFormat('')).call(mk);
  g.append('g').attr('transform',`translate(0,${T})`).call(d3.axisTop(x).tickValues(xMinor).tickSize(-opt.minor).tickFormat('')).call(mk);
  g.append('g').attr('transform',`translate(${L},0)`).call(d3.axisLeft(y).tickValues(yMinor).tickSize(-opt.minor).tickFormat('')).call(mk);
  g.append('g').attr('transform',`translate(${R},0)`).call(d3.axisRight(y).tickValues(yMinor).tickSize(-opt.minor).tickFormat('')).call(mk);
  const xa = g.append('g').attr('transform',`translate(0,${B})`).call(d3.axisBottom(x).tickValues(xTicks).tickSize(-opt.major).tickPadding(opt.xpad).tickFormat(fmt)).call(mk);
  g.append('g').attr('transform',`translate(0,${T})`).call(d3.axisTop(x).tickValues(xTicks).tickSize(-opt.major).tickFormat('')).call(mk);
  const ya = g.append('g').attr('transform',`translate(${L},0)`).call(d3.axisLeft(y).tickValues(yTicks).tickSize(-opt.major).tickPadding(opt.ypad).tickFormat(fmt)).call(mk);
  g.append('g').attr('transform',`translate(${R},0)`).call(d3.axisRight(y).tickValues(yTicks).tickSize(-opt.major).tickFormat('')).call(mk);
  [xa,ya].forEach(a=>a.selectAll('text').attr('font-family',opt.font).attr('font-size',opt.fs).attr('font-weight',opt.fw).attr('fill',opt.tcol));
  g.append('rect').attr('x',L).attr('y',T).attr('width',R-L).attr('height',B-T).attr('fill','none').attr('stroke',opt.col).attr('stroke-width',opt.fw_frame);
}

const topLefts = [71, 521, 970];
const topData = [
  {fr:eagleFR, sr:eagleSR, lines:[[eagleGray,'gray',1.6],[eagleSalmon,'salmon',1.6],[eagleRed,'red',1.5],[eagleMaroon,'maroon',1.5],[eagleBlack,'black',3]]},
  {fr:horizonFR, sr:horizonSR, lines:[[horizonGray,'gray',1.6],[horizonSalmon,'salmon',1.6],[horizonRed,'red',1.5],[horizonMaroon,'maroon',1.5],[horizonBlack,'black',3]]},
  {fr:magFR, sr:magSR, lines:[[magGrayUpper,'gray',1.8],[magGrayLower,'gray',1.8],[magSalmon,'salmon',1.6],[magRed,'red',1.5],[magMaroon,'maroon',1.5],[magBlack,'black',3]]}
];

topData.forEach((p,i)=>{
  const L = topLefts[i], R = L+359, T = 36, B = 389;
  const x = d3.scaleLinear().domain([9.5,12.0]).range([L,R]);
  const y = d3.scaleLinear().domain([-0.02,1.02]).range([B,T]);
  const id = 'clipT'+i;
  defs.append('clipPath').attr('id',id).append('rect').attr('x',L).attr('y',T).attr('width',R-L).attr('height',B-T);
  const g = svg.append('g');
  const pg = g.append('g').attr('clip-path',`url(#${id})`);
  pg.append('g').selectAll('circle').data(p.fr).join('circle').attr('cx',d=>x(d[0])).attr('cy',d=>y(d[1])).attr('r',2.2).attr('fill',COL.fr);
  pg.append('g').selectAll('circle').data(p.sr).join('circle').attr('cx',d=>x(d[0])).attr('cy',d=>y(d[1])).attr('r',2.2).attr('fill',COL.sr);
  const line = d3.line().x(d=>x(d[0])).y(d=>y(d[1])).curve(d3.curveCatmullRom.alpha(0.5));
  p.lines.forEach(([data,c,w])=>pg.append('path').attr('d',line(data)).attr('fill','none').attr('stroke',COL[c]).attr('stroke-width',w).attr('stroke-linecap','round'));
  frameAxes(g,x,y,{col:'#000',tw:1.6,minor:4,major:8,xpad:10,ypad:6,font:TOPF,fs:21,fw:'bold',tcol:'#000',fw_frame:2});
  const t = g.append('text').attr('x',(L+R)/2).attr('y',28).attr('text-anchor','middle').attr('font-family',TOPF).attr('font-size',22).attr('font-weight','bold').text(titles[i]);
  if(i===0) t.append('tspan').attr('font-size',13).attr('dy',-9).text('+');
  const lg = g.append('g').attr('font-family',TOPF).attr('font-size',18).attr('font-weight','bold');
  lg.append('circle').attr('cx',L+72).attr('cy',61).attr('r',4.6).attr('fill',COL.fr).attr('stroke','#223').attr('stroke-width',0.6);
  lg.append('text').attr('x',L+93).attr('y',67).text('pFR');
  lg.append('circle').attr('cx',L+216).attr('cy',61).attr('r',4.6).attr('fill',COL.sr).attr('stroke','#422').attr('stroke-width',0.6);
  lg.append('text').attr('x',L+244).attr('y',67).text('pSR');
  lg.append('text').attr('x',L+342).attr('y',67).attr('text-anchor','end').text(topTags[i]);
  const yl = g.append('text').attr('transform',`translate(${L-47},207) rotate(-90)`).attr('text-anchor','middle').attr('font-family',TOPF).attr('font-size',22);
  yl.append('tspan').text('λ');
  yl.append('tspan').attr('font-size',12).attr('dy',4).text('Re');
  const xl = g.append('text').attr('x',(L+R)/2).attr('y',437).attr('text-anchor','middle').attr('font-family',TOPF).attr('font-size',19).attr('font-weight','bold');
  xl.append('tspan').text('log');
  xl.append('tspan').attr('font-size',12).attr('dy',5).text('10');
  xl.append('tspan').attr('dy',-5).text('(M');
  xl.append('tspan').attr('font-size',12).attr('dy',4).text('∗');
  xl.append('tspan').attr('dy',-4).text(' / M');
  xl.append('tspan').attr('font-size',13).attr('dy',4).text('⊙');
  xl.append('tspan').attr('dy',-4).text(')');
});

const botLefts = [75, 522, 970];
const botData = [[massD,bestD,drawsD],[massE,bestE,drawsE],[massF,bestF,drawsF]];
const BOTF = "'Liberation Serif','DejaVu Serif',serif";
botData.forEach(([mass,best,draws],i)=>{
  const L = botLefts[i], R = L+359, T = 461, B = 821;
  const x = d3.scaleLinear().domain([9.5,11.75]).range([L,R]);
  const y = d3.scaleLinear().domain([-0.05,1.0]).range([B,T]);
  const id = 'clipB'+i;
  defs.append('clipPath').attr('id',id).append('rect').attr('x',L).attr('y',T).attr('width',R-L).attr('height',B-T);
  const g = svg.append('g');
  const pg = g.append('g').attr('clip-path',`url(#${id})`);
  const line = d3.line().x((d,k)=>x(mass[k])).y(d=>y(d)).curve(d3.curveMonotoneX);
  draws.forEach(v=>pg.append('path').attr('d',line(v)).attr('fill','none').attr('stroke','#000').attr('stroke-opacity',0.2).attr('stroke-width',2.2));
  pg.append('path').attr('d',line(best)).attr('fill','none').attr('stroke','#c0282d').attr('stroke-width',4);
  frameAxes(g,x,y,{col:'#333',tw:1,minor:3.5,major:7,xpad:6,ypad:5,font:BOTF,fs:21,fw:'normal',tcol:'#262626',fw_frame:1.3});
  g.append('text').attr('x',L+14).attr('y',495).attr('font-family',BOTF).attr('font-size',21).attr('fill','#222').text(botTags[i]);
  const yl = g.append('text').attr('transform',`translate(${L-46},642) rotate(-90)`).attr('text-anchor','middle').attr('dominant-baseline','central').attr('font-family',BOTF).attr('font-size',27).attr('fill','#222');
  yl.append('tspan').attr('font-style','italic').text('p');
  yl.append('tspan').text('(SR)');
  const xl = g.append('text').attr('x',(L+R)/2).attr('y',868).attr('text-anchor','middle').attr('font-family',BOTF).attr('font-size',27).attr('fill','#222');
  xl.append('tspan').text('log');
  xl.append('tspan').attr('font-size',18).attr('dy',6).text('10');
  xl.append('tspan').attr('dy',-6).text('(');
  xl.append('tspan').attr('font-style','italic').text('M');
  xl.append('tspan').attr('font-size',18).attr('dy',5).text('∗');
  xl.append('tspan').attr('dy',-5).text('/');
  xl.append('tspan').attr('font-style','italic').text('M');
  xl.append('tspan').attr('font-size',18).attr('dy',5).text('⊙');
  xl.append('tspan').attr('dy',-5).text(')');
});
</script></body></html>
